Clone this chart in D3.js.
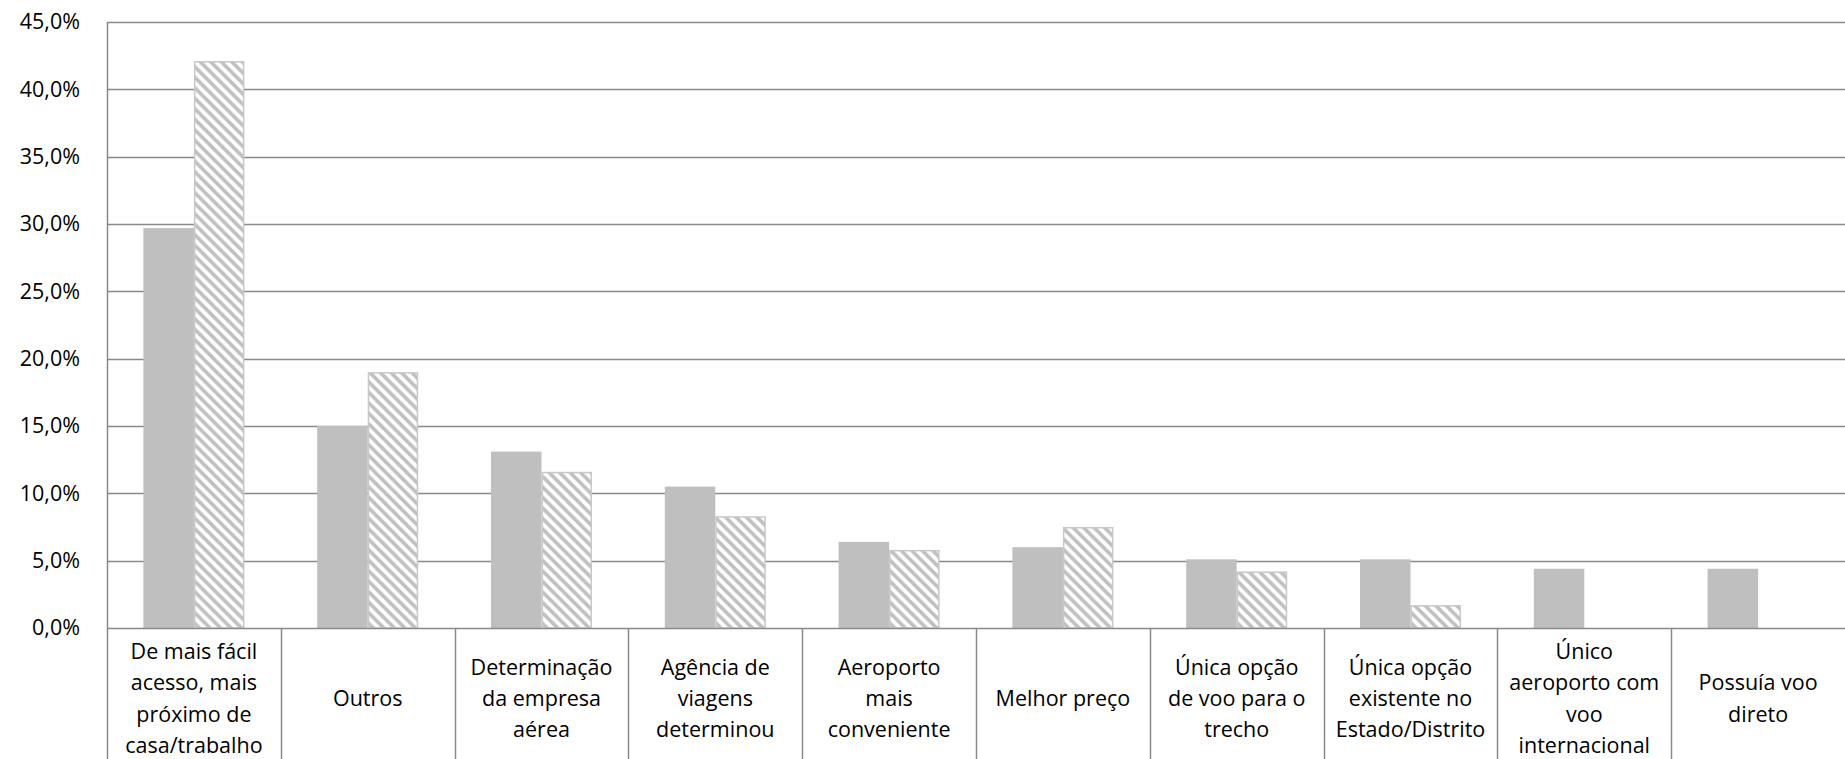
<!DOCTYPE html>
<html>
<head>
<meta charset="utf-8">
<script src="https://cdn.jsdelivr.net/npm/d3@7/dist/d3.min.js"></script>
<style>
  html, body { margin: 0; padding: 0; background: #fff; }
  svg { display: block; }
  text { font-family: "Open Sans", Lato, sans-serif; fill: #000; }
</style>
</head>
<body>
<svg id="chart" width="1845" height="759"></svg>
<script>
// Categories (line breaks mark how each label wraps in its cell)
const categories = [
  "De mais fácil\nacesso, mais\npróximo de\ncasa/trabalho",
  "Outros",
  "Determinação\nda empresa\naérea",
  "Agência de\nviagens\ndeterminou",
  "Aeroporto\nmais\nconveniente",
  "Melhor preço",
  "Única opção\nde voo para o\ntrecho",
  "Única opção\nexistente no\nEstado/Distrito",
  "Único\naeroporto com\nvoo\ninternacional",
  "Possuía voo\ndireto"
];

// Percent values for the two series (solid grey and hatched)
const valuesSolid   = [29.7, 15.0, 13.1, 10.5, 6.4, 6.0, 5.1, 5.1, 4.4, 4.4];
const valuesHatched = [42.1, 19.0, 11.6, 8.3, 5.8, 7.5, 4.2, 1.7, 0, 0];

// Y axis tick values
const yTicks = [0, 5, 10, 15, 20, 25, 30, 35, 40, 45];

const seriesKeys = ["solid", "hatched"];

const W = 1845, H = 759;
const margin = { left: 107, top: 22 };
const fontSize = 21.5;

const svg = d3.select("#chart");

// Downward diagonal hatch used by the second series
const P = 10.5;
const defs = svg.append("defs");
const pat = defs.append("pattern")
  .attr("id", "hatch")
  .attr("patternUnits", "userSpaceOnUse")
  .attr("width", P).attr("height", P);
pat.append("rect").attr("width", P).attr("height", P).attr("fill", "#fff");
pat.append("path")
  .attr("d", `M-3,-3L${P + 3},${P + 3}M-3,${P - 3}L3,${P + 3}M${P - 3},-3L${P + 3},3`)
  .attr("stroke", "#c0c0c0")
  .attr("stroke-width", 3.6);

const x = d3.scaleBand()
  .domain(d3.range(categories.length))
  .range([margin.left, W])
  .paddingInner(0).paddingOuter(0);

const xSub = d3.scaleBand()
  .domain(seriesKeys)
  .range([0, x.bandwidth()])
  .paddingInner(0)
  .paddingOuter(0.72);

const y = d3.scaleLinear().domain([0, 45]).range([628, 22]);

const ptBR = d3.formatLocale({ decimal: ",", thousands: ".", grouping: [3], currency: ["R$", ""] });
const fmt = v => ptBR.format(".1f")(v) + "%";

const axisColor = "#898989";

// Horizontal gridlines
svg.append("g")
  .selectAll("line")
  .data(yTicks.filter(t => t > 0))
  .join("line")
  .attr("x1", margin.left).attr("x2", W)
  .attr("y1", d => Math.round(y(d)) + 0.5)
  .attr("y2", d => Math.round(y(d)) + 0.5)
  .attr("stroke", axisColor)
  .attr("stroke-width", 1.5);

// Y axis tick labels
const yAxis = d3.axisLeft(y).tickValues(yTicks).tickFormat(fmt).tickSize(0).tickPadding(27);
const gy = svg.append("g").attr("transform", `translate(${margin.left},0)`).call(yAxis);
gy.select(".domain").remove();
gy.selectAll("text")
  .attr("font-size", fontSize)
  .attr("font-family", "'Open Sans', Lato, sans-serif")
  .attr("fill", "#000");

// Bars
const rows = categories.map((c, i) => ({ i, solid: valuesSolid[i], hatched: valuesHatched[i] }));
const groups = svg.append("g").selectAll("g")
  .data(rows)
  .join("g")
  .attr("transform", d => `translate(${x(d.i)},0)`);

groups.append("rect")
  .attr("x", xSub("solid"))
  .attr("width", xSub.bandwidth())
  .attr("y", d => y(d.solid))
  .attr("height", d => y(0) - y(d.solid))
  .attr("fill", "#bfbfbf");

groups.filter(d => d.hatched > 0).append("rect")
  .attr("x", xSub("hatched") + 0.75)
  .attr("width", xSub.bandwidth() - 1.5)
  .attr("y", d => y(d.hatched) + 0.75)
  .attr("height", d => y(0) - y(d.hatched) - 0.75)
  .attr("fill", "url(#hatch)")
  .attr("stroke", "#c8c8c8")
  .attr("stroke-width", 1.5);

// Baseline and left axis line
const y0 = Math.round(y(0)) + 0.5;
svg.append("line")
  .attr("x1", margin.left).attr("x2", W)
  .attr("y1", y0).attr("y2", y0)
  .attr("stroke", axisColor).attr("stroke-width", 1.5);
svg.append("line")
  .attr("x1", margin.left + 0.5).attr("x2", margin.left + 0.5)
  .attr("y1", y(45)).attr("y2", H)
  .attr("stroke", axisColor).attr("stroke-width", 1.5);

// Category cell dividers below the axis
svg.append("g").selectAll("line")
  .data(d3.range(1, categories.length))
  .join("line")
  .attr("x1", i => Math.round(x(i)) + 0.5)
  .attr("x2", i => Math.round(x(i)) + 0.5)
  .attr("y1", y0).attr("y2", H)
  .attr("stroke", axisColor).attr("stroke-width", 1.5);

// Category labels, centred in each cell
const lineH = 31.3;
const labelCenterY = 697;
const labels = svg.append("g").selectAll("text")
  .data(categories)
  .join("text")
  .attr("text-anchor", "middle")
  .attr("font-size", fontSize)
  .attr("dominant-baseline", "central")
  .attr("transform", (d, i) => `translate(${x(i) + x.bandwidth() / 2},0)`);

labels.each(function (d) {
  const lines = d.split("\n");
  const top = labelCenterY - (lines.length - 1) * lineH / 2;
  d3.select(this).selectAll("tspan")
    .data(lines)
    .join("tspan")
    .attr("x", 0)
    .attr("y", (l, k) => top + k * lineH)
    .text(l => l);
});
</script>
</body>
</html>
